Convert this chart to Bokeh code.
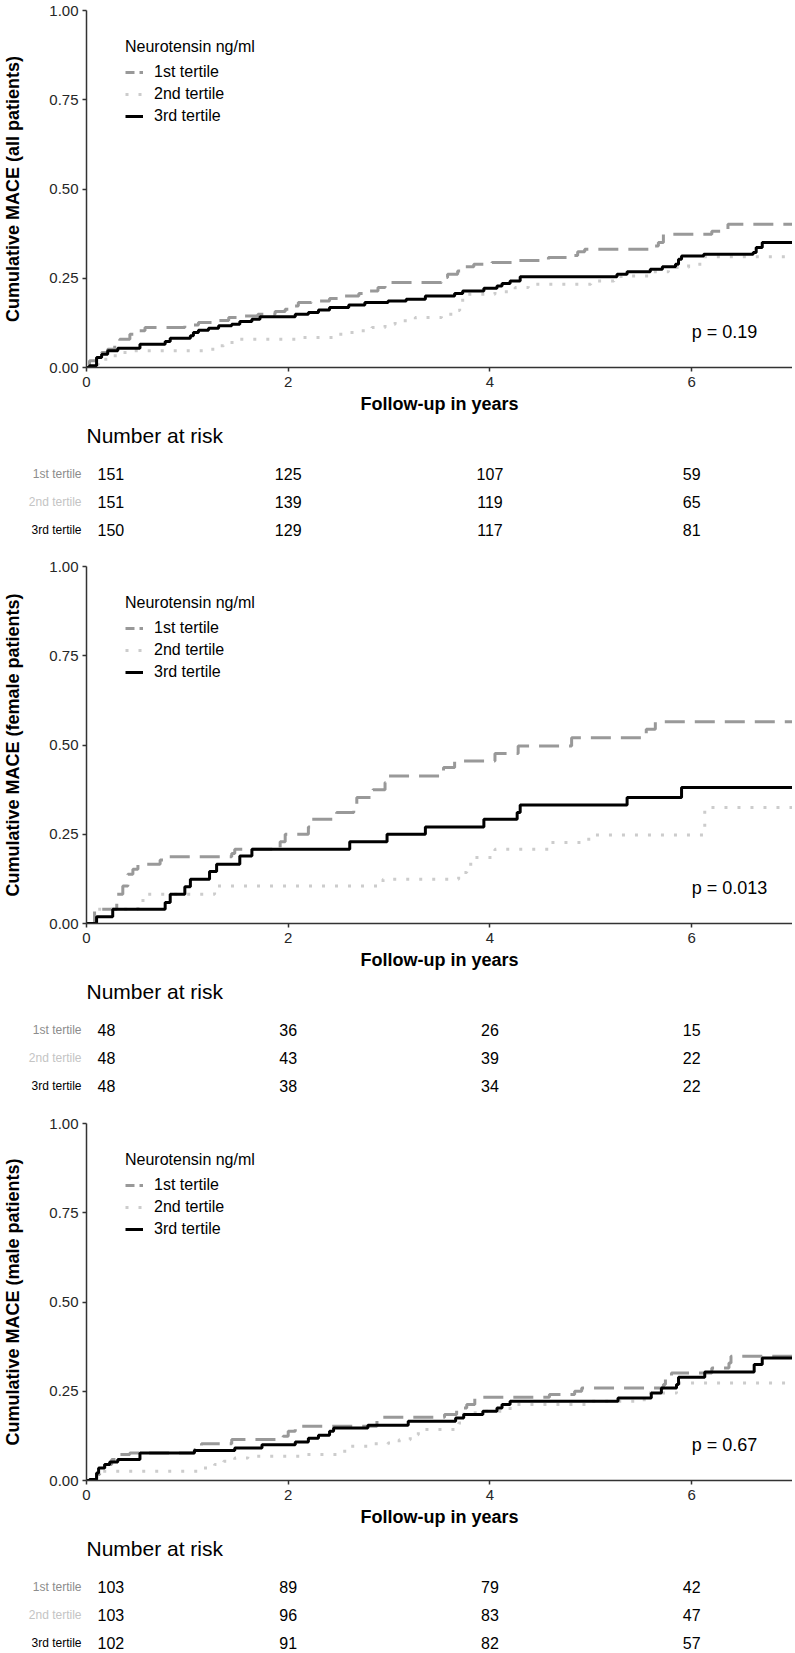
from bokeh.plotting import figure
from bokeh.models import Range1d, FixedTicker, NumeralTickFormatter, Legend, LegendItem, LinearAxis
from bokeh.layouts import column
from bokeh.embed import file_html
from bokeh.resources import INLINE
from bokeh.core.properties import value

# ---------------- data ----------------
groups = ["1st tertile", "2nd tertile", "3rd tertile"]
risk_times = [0, 2, 4, 6]

# All patients
all_t1_time = [0, 0.03, 0.10, 0.15, 0.21, 0.28, 0.33, 0.43, 0.51, 0.58, 0.975, 1.11, 1.24, 1.41, 1.54, 1.70, 1.87, 1.97, 2.03, 2.10, 2.23, 2.41, 2.56, 2.70, 2.79, 2.89, 2.96, 3.52, 3.58, 3.68, 3.75, 3.84, 4.02, 4.25, 4.58, 4.79, 4.87, 4.94, 5.61, 5.67, 5.72, 6.20, 6.36, 7.0]
all_t1_mace = [0, 0.019, 0.033, 0.042, 0.051, 0.065, 0.079, 0.093, 0.103, 0.112, 0.119, 0.126, 0.132, 0.140, 0.144, 0.149, 0.157, 0.163, 0.172, 0.182, 0.186, 0.193, 0.200, 0.207, 0.214, 0.224, 0.238, 0.252, 0.261, 0.270, 0.282, 0.289, 0.294, 0.300, 0.308, 0.314, 0.324, 0.331, 0.340, 0.350, 0.373, 0.382, 0.401, 0.401]
all_t2_time = [0, 0.03, 0.12, 0.22, 0.35, 0.43, 1.17, 1.27, 1.36, 1.47, 2.13, 2.50, 2.60, 2.71, 2.83, 2.96, 3.06, 3.26, 3.52, 3.67, 3.70, 3.73, 4.05, 4.25, 4.38, 5.00, 5.23, 5.30, 5.59, 5.77, 5.97, 6.12, 7.0]
all_t2_mace = [0, 0.009, 0.023, 0.033, 0.042, 0.047, 0.051, 0.061, 0.070, 0.079, 0.084, 0.093, 0.098, 0.103, 0.112, 0.121, 0.131, 0.140, 0.149, 0.160, 0.172, 0.205, 0.212, 0.224, 0.233, 0.242, 0.247, 0.256, 0.268, 0.280, 0.289, 0.310, 0.310]
all_t3_time = [0, 0.03, 0.10, 0.15, 0.21, 0.31, 0.53, 0.78, 0.83, 1.03, 1.06, 1.11, 1.21, 1.31, 1.44, 1.52, 1.64, 1.72, 2.07, 2.20, 2.30, 2.41, 2.60, 2.76, 2.99, 3.17, 3.36, 3.65, 3.73, 3.94, 4.07, 4.12, 4.20, 4.30, 5.26, 5.36, 5.59, 5.71, 5.84, 5.87, 5.90, 6.12, 6.61, 6.64, 6.70, 7.0]
all_t3_mace = [0, 0.005, 0.028, 0.037, 0.047, 0.054, 0.065, 0.073, 0.082, 0.089, 0.098, 0.104, 0.110, 0.117, 0.121, 0.129, 0.135, 0.142, 0.149, 0.154, 0.161, 0.168, 0.175, 0.182, 0.186, 0.191, 0.200, 0.207, 0.214, 0.222, 0.228, 0.235, 0.242, 0.254, 0.261, 0.268, 0.275, 0.282, 0.289, 0.303, 0.312, 0.317, 0.322, 0.336, 0.350, 0.350]

# Female patients
fem_t1_time = [0, 0.08, 0.30, 0.36, 0.41, 0.46, 0.51, 0.73, 0.78, 1.44, 1.47, 1.92, 1.97, 2.20, 2.23, 2.48, 2.65, 2.68, 2.84, 2.96, 2.99, 3.54, 3.65, 4.05, 4.28, 4.81, 5.55, 5.64, 7.0]
fem_t1_mace = [0, 0.040, 0.082, 0.105, 0.138, 0.152, 0.166, 0.178, 0.187, 0.196, 0.208, 0.229, 0.250, 0.270, 0.292, 0.311, 0.332, 0.353, 0.375, 0.395, 0.413, 0.437, 0.455, 0.476, 0.497, 0.520, 0.544, 0.565, 0.565]
fem_t2_time = [0, 0.10, 0.51, 0.56, 1.27, 2.94, 3.69, 3.77, 3.83, 4.05, 4.58, 4.98, 6.13, 7.0]
fem_t2_mace = [0, 0.040, 0.059, 0.082, 0.105, 0.124, 0.143, 0.166, 0.185, 0.208, 0.227, 0.248, 0.325, 0.325]
fem_t3_time = [0, 0.10, 0.26, 0.78, 0.83, 0.975, 1.03, 1.22, 1.29, 1.52, 1.64, 2.61, 2.98, 3.36, 3.94, 4.27, 4.30, 5.36, 5.90, 7.0]
fem_t3_mace = [0, 0.019, 0.040, 0.059, 0.082, 0.103, 0.124, 0.146, 0.166, 0.189, 0.208, 0.229, 0.250, 0.270, 0.292, 0.311, 0.332, 0.353, 0.381, 0.381]

# Male patients
male_t1_time = [0, 0.10, 0.13, 0.18, 0.25, 0.31, 0.43, 1.07, 1.14, 1.44, 1.95, 2.00, 2.07, 2.88, 2.93, 3.55, 3.67, 3.77, 3.85, 4.59, 4.84, 4.91, 5.72, 5.74, 5.80, 6.20, 6.37, 6.39, 7.0]
male_t1_mace = [0, 0.017, 0.026, 0.045, 0.059, 0.073, 0.077, 0.087, 0.103, 0.115, 0.124, 0.138, 0.152, 0.172, 0.177, 0.185, 0.203, 0.213, 0.233, 0.241, 0.250, 0.259, 0.269, 0.287, 0.301, 0.315, 0.329, 0.348, 0.348]
male_t2_time = [0, 0.05, 0.15, 1.14, 1.27, 1.36, 1.47, 1.60, 2.13, 2.53, 2.60, 2.83, 2.99, 3.10, 3.21, 3.29, 3.69, 3.74, 3.90, 4.20, 5.00, 5.53, 5.85, 7.0]
male_t2_mace = [0, 0.012, 0.026, 0.035, 0.045, 0.054, 0.063, 0.068, 0.073, 0.082, 0.096, 0.103, 0.105, 0.114, 0.128, 0.143, 0.161, 0.190, 0.194, 0.213, 0.222, 0.245, 0.273, 0.273]
male_t3_time = [0, 0.03, 0.10, 0.12, 0.18, 0.23, 0.31, 0.53, 1.07, 1.47, 1.74, 2.07, 2.20, 2.30, 2.41, 2.45, 2.79, 3.19, 3.66, 3.74, 3.93, 4.07, 4.12, 4.20, 5.27, 5.60, 5.70, 5.85, 5.87, 6.13, 6.62, 6.70, 7.0]
male_t3_mace = [0, 0.003, 0.021, 0.035, 0.045, 0.052, 0.059, 0.077, 0.084, 0.091, 0.100, 0.108, 0.118, 0.127, 0.138, 0.147, 0.155, 0.166, 0.175, 0.185, 0.194, 0.203, 0.213, 0.222, 0.231, 0.245, 0.259, 0.269, 0.289, 0.304, 0.325, 0.343, 0.343]

# Numbers at risk at 0, 2, 4, 6 years
all_risk = [[151, 125, 107, 59], [151, 139, 119, 65], [150, 129, 117, 81]]
fem_risk = [[48, 36, 26, 15], [48, 43, 39, 22], [48, 38, 34, 22]]
male_risk = [[103, 89, 79, 42], [103, 96, 83, 47], [102, 91, 82, 57]]

y_labels = ["Cumulative MACE (all patients)", "Cumulative MACE (female patients)", "Cumulative MACE (male patients)"]
p_values = ["p = 0.19", "p = 0.013", "p = 0.67"]

# ---------------- styles / layout ----------------
FONT = "Liberation Sans"
line_colors = ["#999999", "#cccccc", "#000000"]
line_dashes = ["20 10", "3 10", "solid"]
key_dashes = ["9 5", "3 10", "solid"]
label_colors = ["#8c8c8c", "#c4c4c4", "#000000"]
AX = "#333333"

FIG_W = 792
KM_TOP = 10
KM_FRAME_H = 357
KM_BOTTOM = 52
KM_H = KM_TOP + KM_FRAME_H + KM_BOTTOM
KM_LEFT = 85
RT_TOP = 27          # room for the "Number at risk" heading
ROW_PITCH = 28
FIRST_ROW_AT = 54    # pixel position of the first table row below the heading figure's top
rt_heights = [137, 138, 121]


def km_fig(curves, ylabel, ptext):
    p = figure(width=FIG_W, height=KM_H, x_range=Range1d(0, 7), y_range=Range1d(0, 1),
               output_backend="svg", toolbar_location=None,
               min_border_left=KM_LEFT, min_border_right=0, min_border_top=KM_TOP,
               min_border_bottom=KM_BOTTOM)
    p.outline_line_color = None
    p.grid.visible = False
    items = []
    nan = float("nan")
    for (t, v), col, dash, kdash, name in zip(curves, line_colors, line_dashes, key_dashes, groups):
        p.step(t, v, mode="after", line_color=col, line_width=3, line_dash=dash)
        key = p.line([nan], [nan], line_color=col, line_width=3, line_dash=kdash)
        items.append(LegendItem(label=name, renderers=[key]))
    p.text(x=[6.0], y=[0.1], text=[ptext], text_align="left", text_baseline="middle",
           text_font=value(FONT), text_font_size="18px", text_color="black")

    legend = Legend(items=items, title="Neurotensin ng/ml", location=(39, 242))
    legend.title_text_font = FONT
    legend.title_text_font_size = "16px"
    legend.title_text_font_style = "normal"
    legend.title_text_color = "black"
    legend.title_standoff = 7
    legend.label_text_font = FONT
    legend.label_text_font_size = "16px"
    legend.label_text_color = "black"
    legend.glyph_width = 18
    legend.glyph_height = 16
    legend.label_height = 16
    legend.label_standoff = 11
    legend.spacing = 4
    legend.padding = 0
    legend.margin = 0
    legend.border_line_color = None
    legend.background_fill_alpha = 0
    p.add_layout(legend)

    p.xaxis.ticker = FixedTicker(ticks=[0, 2, 4, 6])
    p.yaxis.ticker = FixedTicker(ticks=[0, 0.25, 0.5, 0.75, 1.0])
    p.yaxis.formatter = NumeralTickFormatter(format="0.00")
    for ax in p.axis:
        ax.axis_line_color = AX
        ax.axis_line_width = 1.5
        ax.major_tick_line_color = AX
        ax.major_tick_line_width = 1.5
        ax.major_tick_out = 4
        ax.major_tick_in = 0
        ax.minor_tick_out = 0
        ax.minor_tick_in = 0
        ax.major_label_text_font = FONT
        ax.major_label_text_font_size = "15px"
        ax.major_label_text_color = "#262626"
        ax.axis_label_text_font = FONT
        ax.axis_label_text_font_size = "18px"
        ax.axis_label_text_font_style = "bold"
        ax.axis_label_text_color = "black"
    p.xaxis.axis_label = "Follow-up in years"
    p.xaxis.major_label_standoff = 5
    p.xaxis.axis_label_standoff = 4
    p.yaxis.axis_label = ylabel
    p.yaxis.major_label_standoff = 4
    p.yaxis.axis_label_standoff = 23
    return p


def rt_row_fig(name, color, counts, height, row_px, top_border, title=None):
    """One row of the risk table; the row sits row_px pixels below the figure top."""
    frame_h = height - top_border
    above = row_px - top_border
    below = frame_h - above
    kw = dict(title=title) if title else {}
    p = figure(width=FIG_W, height=height, x_range=Range1d(0, 7), y_range=Range1d(-below, above),
               output_backend="svg", toolbar_location=None, x_axis_type=None, y_axis_type=None,
               min_border_left=KM_LEFT, min_border_right=0, min_border_top=top_border,
               min_border_bottom=0, **kw)
    p.outline_line_color = None
    p.grid.visible = False
    if title:
        p.title.text_font = FONT
        p.title.text_font_size = "21px"
        p.title.text_font_style = "normal"
        p.title.text_color = "black"
        p.title.align = "left"
        p.title.offset = 0
        p.title.standoff = 0

    ax = LinearAxis(ticker=FixedTicker(ticks=[0]), major_label_overrides={0: name})
    ax.axis_line_color = None
    ax.major_tick_line_color = None
    ax.minor_tick_line_color = None
    ax.major_tick_out = 0
    ax.major_label_standoff = 5
    ax.major_label_text_font = FONT
    ax.major_label_text_font_size = "12px"
    ax.major_label_text_color = color
    p.add_layout(ax, "left")

    first = [(t, str(n)) for t, n in zip(risk_times, counts) if t == 0]
    rest = [(t, str(n)) for t, n in zip(risk_times, counts) if t != 0]
    p.text(x=[a for a, _ in first], y=[0] * len(first), text=[b for _, b in first],
           text_align="left", text_baseline="middle", x_offset=11,
           text_font=value(FONT), text_font_size="16px", text_color="black")
    p.text(x=[a for a, _ in rest], y=[0] * len(rest), text=[b for _, b in rest],
           text_align="center", text_baseline="middle",
           text_font=value(FONT), text_font_size="16px", text_color="black")
    return p


def rt_figs(risk, total_h):
    h0 = FIRST_ROW_AT + ROW_PITCH // 2
    h1 = ROW_PITCH
    h2 = total_h - h0 - h1
    out = [
        rt_row_fig(groups[0], label_colors[0], risk[0], h0, FIRST_ROW_AT, RT_TOP, title="Number at risk"),
        rt_row_fig(groups[1], label_colors[1], risk[1], h1, ROW_PITCH // 2, 0),
        rt_row_fig(groups[2], label_colors[2], risk[2], h2, ROW_PITCH // 2, 0),
    ]
    return out


panels = [
    [(all_t1_time, all_t1_mace), (all_t2_time, all_t2_mace), (all_t3_time, all_t3_mace)],
    [(fem_t1_time, fem_t1_mace), (fem_t2_time, fem_t2_mace), (fem_t3_time, fem_t3_mace)],
    [(male_t1_time, male_t1_mace), (male_t2_time, male_t2_mace), (male_t3_time, male_t3_mace)],
]
risks = [all_risk, fem_risk, male_risk]

figs = []
for curves, risk, rh, yl, pv in zip(panels, risks, rt_heights, y_labels, p_values):
    figs.append(km_fig(curves, yl, pv))
    figs.extend(rt_figs(risk, rh))

layout = column(*figs, spacing=0)
open("out.html", "w").write(file_html(layout, INLINE))
